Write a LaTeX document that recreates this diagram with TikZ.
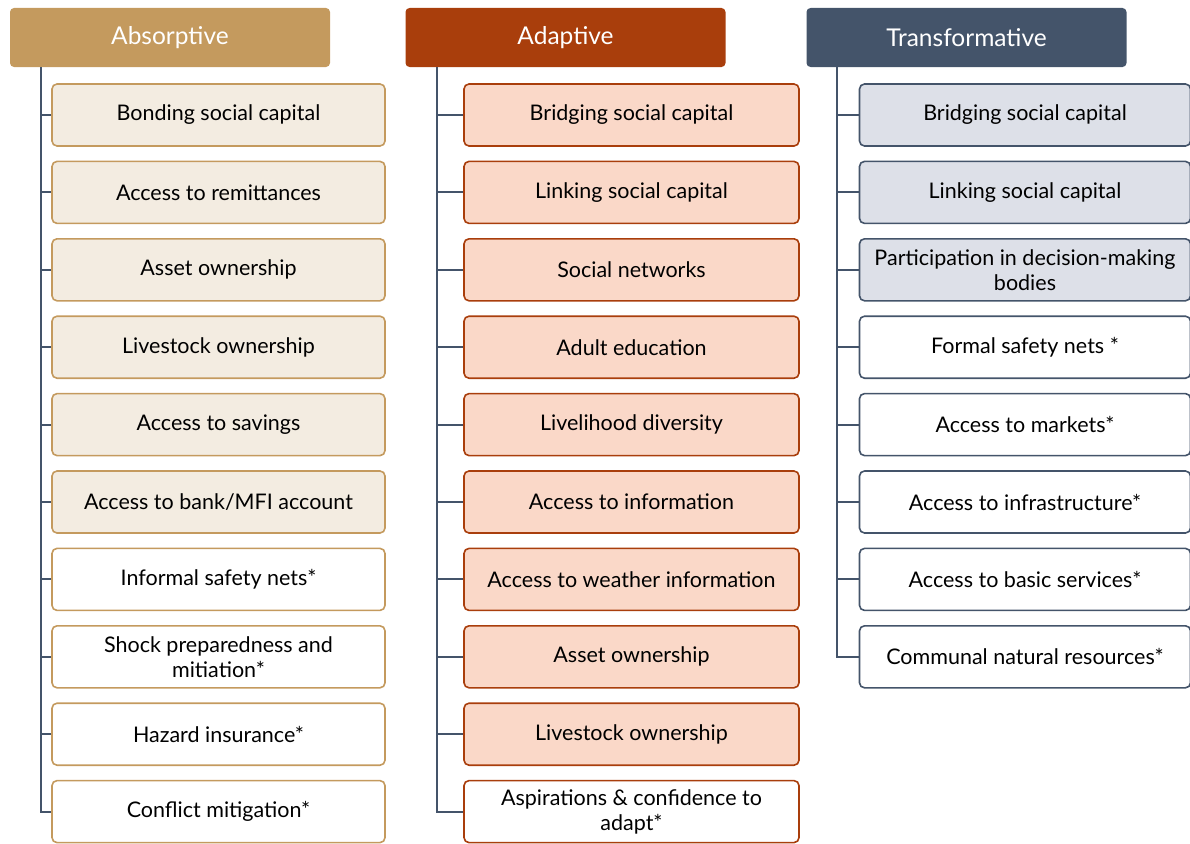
\documentclass[tikz,border=0pt]{standalone}
\usepackage{fontspec}
\setmainfont{Lato}
\usepackage{tikz}
\usepackage{xcolor}
\usetikzlibrary{positioning}

\definecolor{absDark}{HTML}{C49A5E}
\definecolor{absLight}{HTML}{F3ECE1}
\definecolor{adaDark}{HTML}{A93E0C}
\definecolor{adaLight}{HTML}{FAD8C8}
\definecolor{traDark}{HTML}{44546A}
\definecolor{traLight}{HTML}{DDE0E8}

\begin{document}
\begin{tikzpicture}[
    x=1pt, y=1pt,
    node distance=13.8pt,
    head/.style={%
      rectangle,
      rounded corners=4pt,
      minimum width=320pt,
      minimum height=59pt,
      text=white,
      font=\fontsize{24.5}{26}\selectfont,
    },
    item/.style={%
      draw,
      rectangle,
      rounded corners=5pt,
      line width=1.6pt,
      minimum height=62pt,
      align=center,
      inner sep=1pt,
      font=\fontsize{21.5}{25}\selectfont,
    },
    absItem/.style={item, draw=absDark, minimum width=333pt},
    adaItem/.style={item, draw=adaDark, minimum width=335pt},
    traItem/.style={item, draw=traDark, minimum width=331pt},
    tree/.style={draw=traDark, line width=2pt},
  ]

    \useasboundingbox (0,0) rectangle (1190,-843);

    % headers
    \node [head, fill=absDark] (absHead) at (170,-37.5) {Absorptive};
    \node [head, fill=adaDark] (adaHead) at (565.5,-37.5) {Adaptive};
    \node [head, fill=traDark] (traHead) at (966.5,-37.5) {Transformative};

    % absorptive column
    \node [absItem, fill=absLight] (abs1) at (218.5,-115) {Bonding social capital};
    \node [absItem, fill=absLight, below=of abs1] (abs2) {Access to remittances};
    \node [absItem, fill=absLight, below=of abs2] (abs3) {Asset ownership};
    \node [absItem, fill=absLight, below=of abs3] (abs4) {Livestock ownership};
    \node [absItem, fill=absLight, below=of abs4] (abs5) {Access to savings};
    \node [absItem, fill=absLight, below=of abs5] (abs6) {Access to bank/MFI account};
    \node [absItem, fill=white, below=of abs6] (abs7) {Informal safety nets*};
    \node [absItem, fill=white, below=of abs7] (abs8) {Shock preparedness and\\mitiation*};
    \node [absItem, fill=white, below=of abs8] (abs9) {Hazard insurance*};
    \node [absItem, fill=white, below=of abs9] (abs10) {Conflict mitigation*};

    % adaptive column
    \node [adaItem, fill=adaLight] (ada1) at (631.5,-115) {Bridging social capital};
    \node [adaItem, fill=adaLight, below=of ada1] (ada2) {Linking social capital};
    \node [adaItem, fill=adaLight, below=of ada2] (ada3) {Social networks};
    \node [adaItem, fill=adaLight, below=of ada3] (ada4) {Adult education};
    \node [adaItem, fill=adaLight, below=of ada4] (ada5) {Livelihood diversity};
    \node [adaItem, fill=adaLight, below=of ada5] (ada6) {Access to information};
    \node [adaItem, fill=adaLight, below=of ada6] (ada7) {Access to weather information};
    \node [adaItem, fill=adaLight, below=of ada7] (ada8) {Asset ownership};
    \node [adaItem, fill=adaLight, below=of ada8] (ada9) {Livestock ownership};
    \node [adaItem, fill=white, below=of ada9] (ada10) {Aspirations \& confidence to\\adapt*};

    % transformative column
    \node [traItem, fill=traLight] (tra1) at (1025,-115) {Bridging social capital};
    \node [traItem, fill=traLight, below=of tra1] (tra2) {Linking social capital};
    \node [traItem, fill=traLight, below=of tra2] (tra3) {Participation in decision-making\\bodies};
    \node [traItem, fill=white, below=of tra3] (tra4) {Formal safety nets *};
    \node [traItem, fill=white, below=of tra4] (tra5) {Access to markets*};
    \node [traItem, fill=white, below=of tra5] (tra6) {Access to infrastructure*};
    \node [traItem, fill=white, below=of tra6] (tra7) {Access to basic services*};
    \node [traItem, fill=white, below=of tra7] (tra8) {Communal natural resources*};

    % tree lines
    \coordinate (absTop) at (41,-67);
    \coordinate (adaTop) at (437,-67);
    \coordinate (traTop) at (837,-67);
    \draw [tree] (absTop) |- (abs10.west);
    \draw [tree] (adaTop) |- (ada10.west);
    \draw [tree] (traTop) |- (tra8.west);
    \foreach \i in {1,...,9} {
      \draw [tree] (absTop |- abs\i.west) -- (abs\i.west);
      \draw [tree] (adaTop |- ada\i.west) -- (ada\i.west);
    }
    \foreach \i in {1,...,7} {
      \draw [tree] (traTop |- tra\i.west) -- (tra\i.west);
    }
\end{tikzpicture}
\end{document}
